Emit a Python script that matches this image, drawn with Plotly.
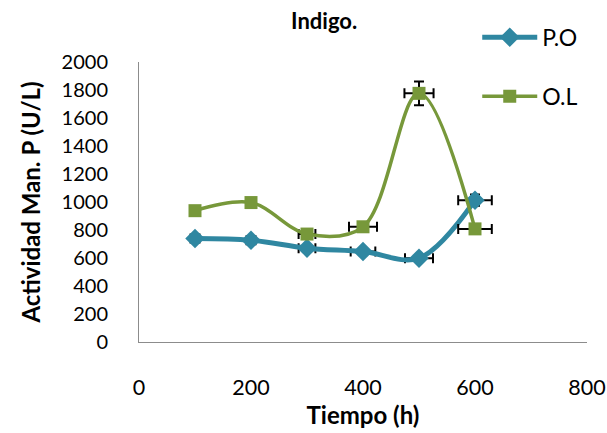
import plotly.graph_objects as go

# Sampling times (h)
tiempo = [100, 200, 300, 400, 500, 600]

# Manganese peroxidase activity (U/L)
po_vals = [740, 727, 670, 646, 599, 1013]
ol_vals = [938, 996, 771, 823, 1776, 808]

# Error estimates
po_xerr = [8, 8, 15, 22, 25, 30]
po_yerr = [15, 15, 20, 20, 15, 40]
ol_xerr = [5, 5, 15, 25, 26, 30]
ol_yerr = [15, 30, 20, 20, 85, 15]

FONT = "Lato, 'Open Sans', sans-serif"
TEAL = "#2f87a1"
GREEN = "#77983a"

fig = go.Figure()

fig.add_trace(go.Scatter(
    x=tiempo, y=po_vals, name="P.O", legendgroup="po",
    mode="lines+markers",
    line=dict(color=TEAL, width=5, shape="spline", smoothing=1),
    marker=dict(symbol="diamond", size=15, color=TEAL),
    error_x=dict(type="data", array=po_xerr, color="black", thickness=2, width=5),
    error_y=dict(type="data", array=po_yerr, color="black", thickness=2, width=5),
))

fig.add_trace(go.Scatter(
    x=tiempo, y=ol_vals, name="O.L", legendgroup="ol",
    mode="lines+markers",
    line=dict(color=GREEN, width=3.5, shape="spline", smoothing=1),
    marker=dict(symbol="square", size=13, color=GREEN),
    error_x=dict(type="data", array=ol_xerr, color="black", thickness=2, width=5),
    error_y=dict(type="data", array=ol_yerr, color="black", thickness=2, width=5),
))

fig.update_layout(
    width=607, height=433,
    margin=dict(l=139, r=20, t=62, b=91),
    paper_bgcolor="white", plot_bgcolor="white",
    font=dict(family=FONT, size=20, color="black"),
    title=dict(text="<b>Indigo.</b>", x=0.534, xanchor="center",
               xref="container", y=0.95, yanchor="middle", yref="container",
               font=dict(family=FONT, size=22, color="black")),
    showlegend=True,
    legend=dict(x=0.755, y=1.165, xanchor="left", yanchor="top",
                traceorder="grouped", tracegroupgap=26, itemwidth=55,
                bgcolor="rgba(0,0,0,0)",
                font=dict(family=FONT, size=23, color="black")),
    xaxis=dict(
        range=[0, 800], tickvals=[0, 200, 400, 600, 800],
        automargin=False,
        showgrid=False, zeroline=False, showline=True,
        linecolor="#8c8c8c", linewidth=1,
        ticks="outside", ticklen=26, tickcolor="rgba(0,0,0,0)",
        tickfont=dict(size=21.5),
        title=dict(text="<b>Tiempo (h)</b>", standoff=4,
                   font=dict(size=24)),
    ),
    yaxis=dict(
        range=[0, 2000], tickvals=list(range(0, 2001, 200)),
        automargin=False,
        showgrid=False, zeroline=False, showline=True,
        linecolor="#8c8c8c", linewidth=1,
        ticks="outside", ticklen=26, tickcolor="rgba(0,0,0,0)",
        tickfont=dict(size=20),
        title=dict(text="<b>Actividad Man. P (U/L)</b>", standoff=14,
                   font=dict(size=24)),
    ),
)

fig.write_html("out.html")
